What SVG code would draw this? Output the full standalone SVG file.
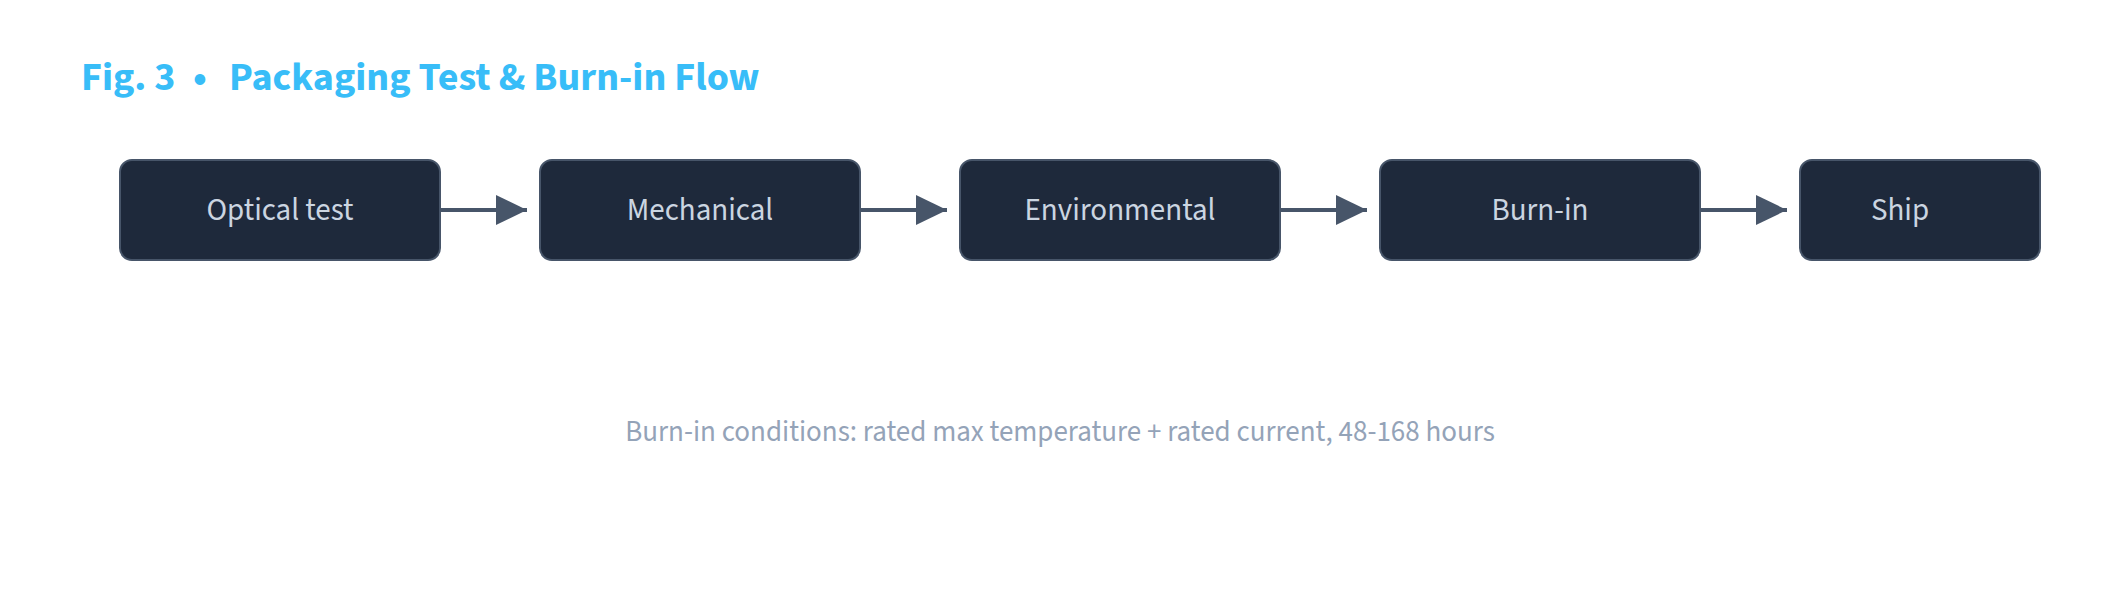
<svg xmlns="http://www.w3.org/2000/svg" width="2120" height="600" viewBox="0 0 2120 600">
<style>
.bg{fill:#ffffff}
.title{font-family:"Source Sans 3","Source Sans Pro",Lato,"Noto Sans",sans-serif;font-weight:700;font-size:40px;fill:#38bdf8}
.box{fill:#1e293b;stroke:#475569;stroke-width:2}
.lbl{font-family:"Source Sans 3","Source Sans Pro",Lato,"Noto Sans",sans-serif;font-size:31px;fill:#cbd5e1;text-anchor:middle}
.edge{stroke:#475569;stroke-width:4;fill:none}
.cap{font-family:"Source Sans 3","Source Sans Pro",Lato,"Noto Sans",sans-serif;font-size:29px;fill:#94a3b8;text-anchor:middle}
</style>
<defs>
<marker id="arr" markerUnits="userSpaceOnUse" markerWidth="32" markerHeight="32" refX="31" refY="15" orient="auto" viewBox="0 0 32 30">
<path d="M0,0 L31,15 L0,30 Z" fill="#475569"/>
</marker>
</defs>
<rect class="bg" width="2120" height="600"/>
<text class="title" y="90"><tspan x="81">Fig. 3</tspan><tspan x="200" text-anchor="middle">•</tspan><tspan x="229">Packaging Test &amp; Burn-in Flow</tspan></text>
<g id="connectors">
<line class="edge" x1="440" y1="210" x2="527" y2="210" marker-end="url(#arr)"/>
<line class="edge" x1="860" y1="210" x2="947" y2="210" marker-end="url(#arr)"/>
<line class="edge" x1="1280" y1="210" x2="1367" y2="210" marker-end="url(#arr)"/>
<line class="edge" x1="1700" y1="210" x2="1787" y2="210" marker-end="url(#arr)"/>
</g>
<g id="n1"><rect class="box" x="120" y="160" width="320" height="100" rx="12"/><text class="lbl" x="280" y="220">Optical test</text></g>
<g id="n2"><rect class="box" x="540" y="160" width="320" height="100" rx="12"/><text class="lbl" x="700" y="220">Mechanical</text></g>
<g id="n3"><rect class="box" x="960" y="160" width="320" height="100" rx="12"/><text class="lbl" x="1120" y="220">Environmental</text></g>
<g id="n4"><rect class="box" x="1380" y="160" width="320" height="100" rx="12"/><text class="lbl" x="1540" y="220">Burn-in</text></g>
<g id="n5"><rect class="box" x="1800" y="160" width="240" height="100" rx="12"/><text class="lbl" x="1900" y="220">Ship</text></g>
<text class="cap" x="1060" y="441">Burn-in conditions: rated max temperature + rated current, 48-168 hours</text>
</svg>
